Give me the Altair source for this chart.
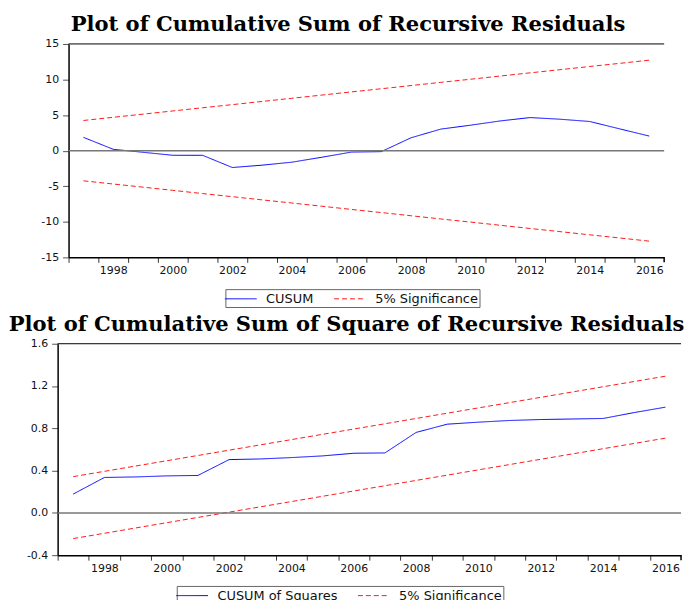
import altair as alt
import pandas as pd

years = list(range(1997, 2017))

cusum = [1.87, 0.19, -0.23, -0.65, -0.65, -2.37, -2.04, -1.62, -0.93, -0.2,
         -0.14, 1.81, 3.03, 3.58, 4.18, 4.65, 4.42, 4.1, 3.07, 2.05]
cusum_upper = [4.24, 4.69, 5.13, 5.58, 6.03, 6.47, 6.92, 7.36, 7.81, 8.26,
               8.70, 9.15, 9.60, 10.04, 10.49, 10.94, 11.38, 11.83, 12.27, 12.72]
cusum_lower = [-4.24, -4.69, -5.13, -5.58, -6.03, -6.47, -6.92, -7.36, -7.81, -8.26,
               -8.70, -9.15, -9.60, -10.04, -10.49, -10.94, -11.38, -11.83, -12.27, -12.72]

cusumsq = [0.178, 0.335, 0.34, 0.35, 0.354, 0.504, 0.51, 0.523, 0.539, 0.564,
           0.567, 0.761, 0.839, 0.858, 0.874, 0.883, 0.888, 0.893, 0.949, 1.0]
sq_upper = [0.343, 0.393, 0.443, 0.493, 0.543, 0.593, 0.643, 0.693, 0.743, 0.793,
            0.843, 0.893, 0.943, 0.993, 1.043, 1.093, 1.143, 1.193, 1.243, 1.293]
sq_lower = [-0.243, -0.193, -0.143, -0.093, -0.043, 0.007, 0.057, 0.107, 0.157, 0.207,
            0.257, 0.307, 0.357, 0.407, 0.457, 0.507, 0.557, 0.607, 0.657, 0.707]

top_title = "Plot of Cumulative Sum of Recursive Residuals"
bottom_title = "Plot of Cumulative Sum of Square of Recursive Residuals"
sig_name = "5% Significance"

top_y_ticks = [-15, -10, -5, 0, 5, 10, 15]
bottom_y_ticks = [-0.4, 0.0, 0.4, 0.8, 1.2, 1.6]
x_min, x_max = years[0] - 0.5, years[-1] + 0.5

MINUS = "\u2212"


def build_df(main_name, main, upper, lower):
    rows = []
    for y, v in zip(years, main):
        rows.append({"year": y, "value": v, "series": main_name, "line": "main"})
    for y, v in zip(years, upper):
        rows.append({"year": y, "value": v, "series": sig_name, "line": "upper"})
    for y, v in zip(years, lower):
        rows.append({"year": y, "value": v, "series": sig_name, "line": "lower"})
    return pd.DataFrame(rows)


def panel(df, main_name, ydom, yticks, yfmt, width, xshift, height, title, title_dx,
          lx, ly):
    half = (width - xshift) / len(years) / 2.0
    xscale = alt.Scale(domain=[x_min, x_max], range=[xshift, width], nice=False, zero=False)
    yscale = alt.Scale(domain=ydom, nice=False, zero=False)
    xaxis = alt.Axis(
        orient="bottom", values=years, title=None, grid=False,
        labelExpr="datum.value % 2 == 0 ? '' + datum.value : ''",
        tickOffset=-half, labelOffset=half,
        labelFlush=False, labelOverlap=False, labelBound=False,
        tickSize=5, labelPadding=2, domainColor="black", domainWidth=1.5,
        tickColor="#333", labelFont="DejaVu Sans", labelFontSize=11, labelColor="#111",
    )
    yaxis = alt.Axis(
        orient="left", values=yticks, title=None, grid=False, format=yfmt,
        labelExpr="replace(datum.label, '" + MINUS + "', '-')",
        offset=-xshift, labelFlush=False, labelOverlap=False, labelBound=False,
        tickSize=6, labelPadding=4, domainColor="black", domainWidth=1.5,
        tickColor="#555", labelFont="DejaVu Sans", labelFontSize=11, labelColor="#111",
    )
    legend = alt.Legend(
        title=None, orient="none", legendX=lx, legendY=ly, direction="horizontal",
        symbolType="M-2,0H2", symbolSize=256, symbolStrokeWidth=1, symbolOffset=6,
        labelFont="DejaVu Sans", labelFontSize=13, labelColor="#111",
        strokeColor="#666", padding=1, columnPadding=18, labelOffset=17,
    )
    domain = [main_name, sig_name]
    lines = alt.Chart(df).mark_line(strokeWidth=1, clip=True).encode(
        x=alt.X("year:Q", scale=xscale, axis=xaxis),
        y=alt.Y("value:Q", scale=yscale, axis=yaxis),
        color=alt.Color("series:N", scale=alt.Scale(domain=domain, range=["#0000ff", "#ff1a1a"]),
                        legend=legend),
        strokeDash=alt.StrokeDash("series:N",
                                  scale=alt.Scale(domain=domain, range=[[1, 0], [5, 3]]),
                                  legend=legend),
        detail="line:N",
        order="year:Q",
    )
    zero = alt.Chart().mark_rule(color="#777", strokeWidth=1.5).encode(
        y=alt.YDatum(0, axis=yaxis), x=alt.XDatum(x_min, axis=xaxis), x2=alt.X2Datum(x_max)
    )
    top_border = alt.Chart().mark_rule(color="black", strokeWidth=1).encode(
        y=alt.YDatum(ydom[1], axis=yaxis), x=alt.XDatum(x_min, axis=xaxis), x2=alt.X2Datum(x_max)
    )
    right_border = alt.Chart().mark_rule(color="black", strokeWidth=1.5).encode(
        x=alt.XDatum(x_max, axis=xaxis), y=alt.YDatum(ydom[0], axis=yaxis),
        y2=alt.Y2Value(height + 5)
    )
    return alt.layer(lines, zero, top_border, right_border).properties(
        width=width, height=height,
        title=alt.TitleParams(
            text=title, font="DejaVu Serif", fontSize=21.2, fontWeight="bold",
            color="black", anchor="middle", frame="group", dx=title_dx, offset=3,
        ),
    )


top = panel(build_df("CUSUM", cusum, cusum_upper, cusum_lower), "CUSUM",
            [-15, 15], top_y_ticks, "d", 611, 11, 215, top_title, -13,
            169, 247)
bottom = panel(build_df("CUSUM of Squares", cusumsq, sq_upper, sq_lower), "CUSUM of Squares",
               [-0.4, 1.6], bottom_y_ticks, ".1f", 628, 0, 213, bottom_title, -23,
               120, 244)

chart = alt.vconcat(top, bottom, spacing=5).resolve_scale(
    color="independent", strokeDash="independent"
).resolve_legend(color="independent", strokeDash="independent").configure_view(
    stroke=None
).properties(padding={"top": 3, "left": 0, "right": 0, "bottom": 0})

chart.save("out.html", embed_options={"renderer": "svg", "actions": False})
